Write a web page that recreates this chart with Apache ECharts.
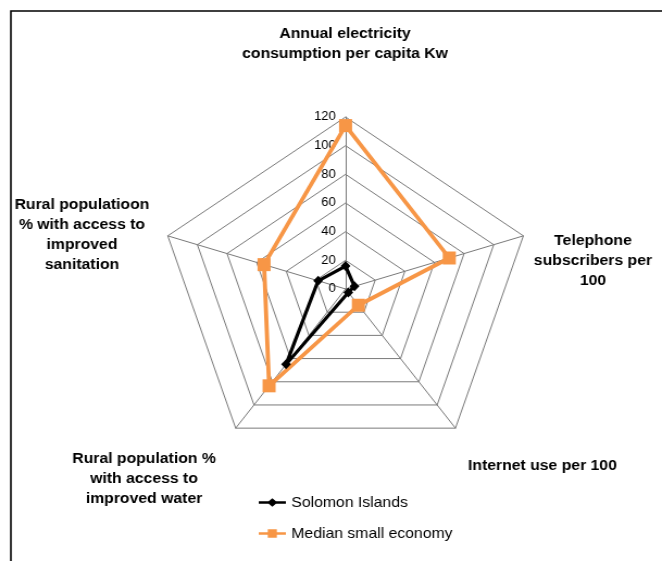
<!DOCTYPE html>
<html>
<head>
<meta charset="utf-8">
<script src="https://cdn.jsdelivr.net/npm/echarts@6/dist/echarts.min.js"></script>
<style>
  html, body { margin: 0; padding: 0; background: #fff; overflow: hidden; }
  #wrap { width: 662px; height: 561px; overflow: hidden; position: relative; }
  /* the radar is drawn a little wider than tall */
  #chart { width: 609px; height: 561px; transform: scaleX(1.087); transform-origin: 0 0; }
</style>
</head>
<body>
<div id="wrap"><div id="chart"></div></div>
<script>
// Indicators, listed clockwise from the top
const categories = [
  'Annual electricity\nconsumption per capita Kw',
  'Telephone\nsubscribers per\n100',
  'Internet use per 100',
  'Rural population %\nwith access to\nimproved water',
  'Rural populatioon\n% with access to\nimproved\nsanitation'
];
const solomonIslands = [16, 6, 3, 65, 18.5];
const medianSmallEconomy = [114, 70, 14, 83.5, 55];
const seriesNames = ['Solomon Islands', 'Median small economy'];
const tickLabels = [0, 20, 40, 60, 80, 100, 120];

// ECharts lays radar indicators out counter-clockwise, so walk the list backwards after the top one
const order = [0, 4, 3, 2, 1];
const reorder = arr => order.map(i => arr[i]);

const axisMax = tickLabels[tickLabels.length - 1];
const tickStep = tickLabels[1] - tickLabels[0];

const cx = 317.9, cy = 289, R = 172;
const family = '"Liberation Sans", Arial, sans-serif';
const boldFont = 'bold 14.5px ' + family;

function label(text, x, y, align) {
  return {
    type: 'text', x: x, y: y, silent: true,
    style: { text: text, font: boldFont, fill: '#000', align: align || 'center', verticalAlign: 'top', lineHeight: 20 }
  };
}

const chart = echarts.init(document.getElementById('chart'), null, { renderer: 'canvas' });
chart.setOption({
  animation: false,
  backgroundColor: '#fff',
  radar: {
    center: [cx, cy],
    radius: R,
    startAngle: 90,
    shape: 'polygon',
    splitNumber: tickLabels.length - 1,
    indicator: reorder(categories).map(name => ({ name: name, min: 0, max: axisMax })),
    axisName: { show: false },
    axisLine: { lineStyle: { color: '#7a7a7a', width: 1 } },
    axisTick: { show: false },
    axisLabel: { show: false },
    splitLine: { lineStyle: { color: '#7a7a7a', width: 1 } },
    splitArea: { show: false }
  },
  // value scale drawn along the top spoke
  grid: { left: cx, top: cy - R, width: 1, height: R, containLabel: false },
  xAxis: { type: 'value', show: false },
  yAxis: {
    type: 'value', min: 0, max: axisMax, interval: tickStep,
    axisLine: { show: false }, axisTick: { show: false }, splitLine: { show: false },
    axisLabel: { color: '#000', fontSize: 12, fontFamily: family, margin: 9 }
  },
  legend: {
    orient: 'vertical',
    left: 233,
    top: 490,
    itemWidth: 25,
    itemHeight: 10,
    itemGap: 16,
    textStyle: { color: '#000', fontSize: 14.5, fontFamily: family },
    data: [
      { name: seriesNames[0], icon: 'path://M0,3.5L11,3.5L15,0L19,3.5L30,3.5L30,6.5L19,6.5L15,10L11,6.5L0,6.5Z' },
      { name: seriesNames[1], icon: 'path://M0,3.5L10,3.5L10,0L20,0L20,3.5L30,3.5L30,6.5L20,6.5L20,10L10,10L10,6.5L0,6.5Z' }
    ]
  },
  series: [{
    type: 'radar',
    data: [
      {
        name: seriesNames[0], value: reorder(solomonIslands),
        symbol: 'diamond', symbolSize: [9, 10],
        lineStyle: { color: '#000', width: 3.2 },
        itemStyle: { color: '#000' }
      },
      {
        name: seriesNames[1], value: reorder(medianSmallEconomy),
        symbol: 'rect', symbolSize: [12, 13],
        lineStyle: { color: '#F79646', width: 3.8 },
        itemStyle: { color: '#F79646' }
      }
    ]
  }],
  graphic: [
    { type: 'rect', silent: true, shape: { x: 10, y: 11, width: 700, height: 600 }, style: { fill: 'none', stroke: '#000', lineWidth: 1.6 } },
    label(categories[0], 317.4, 24),
    label(categories[1], 545.5, 231),
    label(categories[2], 430.5, 456, 'left'),
    label(categories[3], 132.5, 448.5),
    label(categories[4], 75.4, 195)
  ]
});
</script>
</body>
</html>
